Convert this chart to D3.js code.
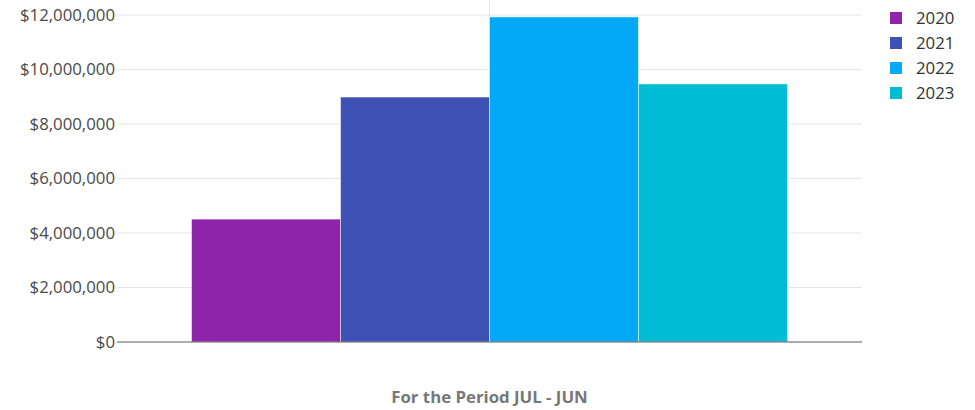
<!DOCTYPE html>
<html>
<head>
<meta charset="utf-8">
<script src="https://cdn.jsdelivr.net/npm/d3@7"></script>
<style>
  body { margin: 0; background: #fff; }
  text { font-family: "Open Sans", sans-serif; }
</style>
</head>
<body>
<div id="chart"></div>
<script>
var svgWidth = 975;
var svgHeight = 410;

var margin = { top: 15, right: 113, bottom: 68, left: 117 };
var chartWidth = svgWidth - margin.left - margin.right;
var chartHeight = svgHeight - margin.top - margin.bottom;

var years = ["2020", "2021", "2022", "2023"];
var amounts = [4510000, 8990000, 11930000, 9470000];
var colors = ["#8e24aa", "#3f51b5", "#03a9f4", "#00bcd4"];
var yTicks = [0, 2000000, 4000000, 6000000, 8000000, 10000000, 12000000];
var category = "For the Period JUL - JUN";

var svg = d3.select("#chart")
  .append("svg")
  .attr("width", svgWidth)
  .attr("height", svgHeight);

var chartGroup = svg.append("g")
  .attr("transform", `translate(${margin.left}, ${margin.top})`);

var x0 = d3.scaleBand()
  .domain([category])
  .range([0, chartWidth]);

var x1 = d3.scaleBand()
  .domain(years)
  .range([x0.bandwidth() * 0.1, x0.bandwidth() * 0.9]);

var y = d3.scaleLinear()
  .domain([0, 12000000])
  .range([chartHeight, 0]);

var fmt = d => "$" + d3.format(",")(d);

// horizontal grid
chartGroup.append("g")
  .selectAll("line")
  .data(yTicks)
  .enter()
  .append("line")
  .attr("x1", 0)
  .attr("x2", chartWidth)
  .attr("y1", d => y(d))
  .attr("y2", d => y(d))
  .attr("stroke", "#e6e6e6")
  .attr("stroke-width", 1);

// vertical category gridline
chartGroup.append("line")
  .attr("x1", x0(category) + x0.bandwidth() / 2)
  .attr("x2", x0(category) + x0.bandwidth() / 2)
  .attr("y1", -margin.top)
  .attr("y2", chartHeight)
  .attr("stroke", "#e6e6e6");

// bars
chartGroup.selectAll("rect.bar")
  .data(years)
  .enter()
  .append("rect")
  .classed("bar", true)
  .attr("x", d => x0(category) + x1(d))
  .attr("y", (d, i) => y(amounts[i]))
  .attr("width", x1.bandwidth())
  .attr("height", (d, i) => chartHeight - y(amounts[i]))
  .attr("fill", (d, i) => colors[i])
  .attr("stroke", "rgba(255,255,255,0.5)")
  .attr("stroke-width", 1);

// y axis
var leftAxis = d3.axisLeft(y)
  .tickValues(yTicks)
  .tickFormat(fmt)
  .tickSize(0)
  .tickPadding(2);

var yAxis = chartGroup.append("g").call(leftAxis);
yAxis.select(".domain").remove();
yAxis.selectAll("text")
  .attr("font-family", "'Open Sans', sans-serif")
  .attr("font-size", 16.8)
  .attr("fill", "#4a4a4a");

// baseline
chartGroup.append("line")
  .attr("x1", 0)
  .attr("x2", chartWidth)
  .attr("y1", chartHeight)
  .attr("y2", chartHeight)
  .attr("stroke", "#666")
  .attr("stroke-width", 1);

// x axis label
chartGroup.append("text")
  .attr("x", x0(category) + x0.bandwidth() / 2)
  .attr("y", chartHeight + 61)
  .attr("text-anchor", "middle")
  .attr("font-size", 16.8)
  .attr("font-weight", "bold")
  .attr("fill", "#777")
  .text(category);

// legend
var legend = svg.append("g")
  .attr("transform", "translate(890, 12)");

var legendItems = legend.selectAll("g")
  .data(years)
  .enter()
  .append("g")
  .attr("transform", (d, i) => `translate(0, ${i * 25})`);

legendItems.append("rect")
  .attr("width", 12)
  .attr("height", 12)
  .attr("fill", (d, i) => colors[i]);

legendItems.append("text")
  .attr("x", 26)
  .attr("y", 12)
  .attr("font-size", 16.8)
  .attr("fill", "#333")
  .text(d => d);
</script>
</body>
</html>
